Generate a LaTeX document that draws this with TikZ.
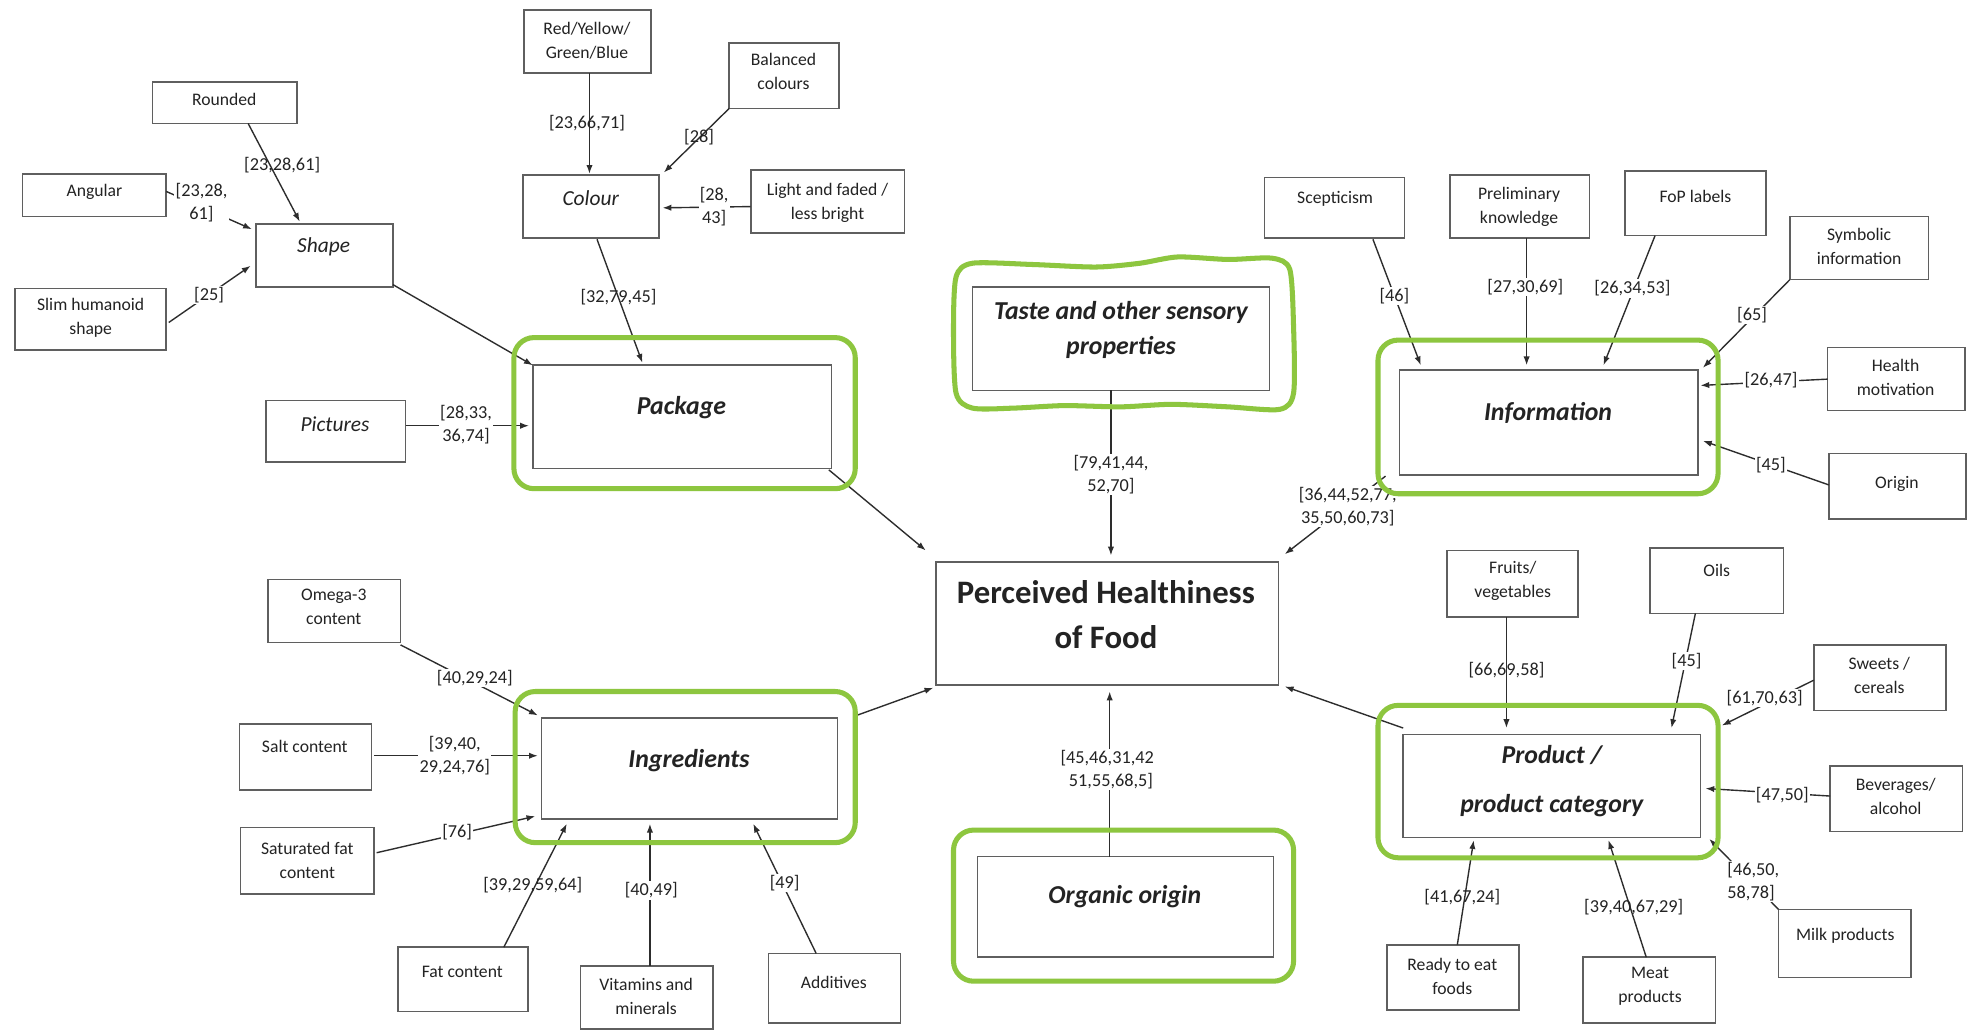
\documentclass[tikz,border=0pt]{standalone}
\usepackage{fontspec}
\setmainfont{Carlito}
\usetikzlibrary{arrows.meta,calc}
\definecolor{gframe}{RGB}{141,198,63}
\definecolor{boxc}{RGB}{95,95,95}
\definecolor{linec}{RGB}{45,45,45}
\definecolor{txtc}{RGB}{35,35,35}
\newcommand\mkbox[5]{\node[box, minimum width={#4-#2}, minimum height={#5-#3}] (#1) at ({(#2+#4)/2},{(#3+#5)/2}) {};}
\newcommand\mkframe[5]{\node[gbox, minimum width={#4-#2}, minimum height={#5-#3}] (#1) at ({(#2+#4)/2},{(#3+#5)/2}) {};}
\begin{document}
\begin{tikzpicture}[x=1pt,y=-1pt,
  box/.style={draw=boxc, line width=1.3pt, inner sep=0pt, outer sep=0pt},
  gbox/.style={draw=gframe, line width=4pt, rounded corners=16pt, inner sep=0pt, outer sep=0pt},
  txt/.style={font=\fontsize{14}{19}\selectfont, text=txtc, align=center, inner sep=0pt},
  itxt/.style={font=\fontsize{17}{21}\selectfont\itshape, text=txtc, align=center, inner sep=0pt},
  btxt/.style={font=\fontsize{20.5}{28}\selectfont\bfseries\itshape, text=txtc, align=center, inner sep=0pt},
  mtxt/.style={font=\fontsize{26}{36}\selectfont\bfseries, text=txtc, align=center, inner sep=0pt},
  lab/.style={font=\fontsize{14.5}{18}\selectfont, text=txtc, align=center, inner sep=1pt},
  labf/.style={lab, fill=white},
  arr/.style={draw=linec, line width=1.1pt, -{Latex[length=7pt,width=5pt]}}]
\useasboundingbox (0,0) rectangle (1568,819);
\fill[white] (0,0) rectangle (1568,819);

% ---- boxes ----
\mkbox{rounded}{121}{65}{236}{98}
\mkbox{angular}{18}{138}{132}{172}
\mkbox{slim}{12}{229}{132}{278}
\mkbox{shape}{203}{178}{312}{228}
\mkbox{rygb}{416}{8}{517}{58}
\mkbox{balanced}{579}{34}{666}{86}
\mkbox{colour}{415}{139}{523}{189}
\mkbox{light}{596}{135}{718}{185}
\mkbox{pkg}{423}{290}{660}{372}
\mkbox{pictures}{211}{318}{322}{367}
\mkbox{taste}{772}{228}{1008}{310}
\mkbox{phf}{743}{446}{1015}{544}
\mkbox{info}{1111}{294}{1348}{377}
\mkbox{scep}{1004}{141}{1115}{189}
\mkbox{prelim}{1151}{139}{1262}{189}
\mkbox{fop}{1290}{136}{1402}{187}
\mkbox{symb}{1421}{172}{1531}{222}
\mkbox{health}{1451}{276}{1560}{326}
\mkbox{origin}{1452}{360}{1561}{412}
\mkbox{ingr}{430}{570}{665}{650}
\mkbox{omega}{213}{460}{318}{510}
\mkbox{salt}{190}{575}{295}{627}
\mkbox{satfat}{191}{657}{297}{710}
\mkbox{fat}{316}{752}{419}{803}
\mkbox{vit}{461}{767}{566}{817}
\mkbox{addit}{610}{757}{715}{812}
\mkbox{organic}{776}{680}{1011}{760}
\mkbox{prod}{1114}{583}{1350}{665}
\mkbox{fruits}{1149}{437}{1253}{490}
\mkbox{oils}{1310}{435}{1416}{487}
\mkbox{sweets}{1440}{512}{1545}{564}
\mkbox{bev}{1453}{608}{1558}{660}
\mkbox{milk}{1412}{722}{1517}{776}
\mkbox{ready}{1101}{750}{1206}{802}
\mkbox{meat}{1257}{760}{1362}{812}

% ---- texts ----
\node[txt] (t-rounded) at (178,79) {Rounded};
\node[txt] (t-angular) at (75,152) {Angular};
\node[txt] (t-slim) at (72,252) {Slim humanoid\\shape};
\node[itxt] (t-shape) at (257,196) {Shape};
\node[txt] (t-rygb) at (466,32) {Red/Yellow/\\Green/Blue};
\node[txt] (t-balanced) at (622,57) {Balanced\\colours};
\node[itxt] (t-colour) at (469,157) {Colour};
\node[txt] (t-light) at (657,161) {Light and faded /\\less bright};
\node[btxt] (t-pkg) at (541,324) {Package};
\node[itxt] (t-pictures) at (266,337) {Pictures};
\node[btxt] (t-taste) at (890,262) {Taste and other sensory\\properties};
\node[mtxt] (t-phf) at (878,488) {Perceived Healthiness\\of Food};
\node[btxt] (t-info) at (1229,328) {Information};
\node[txt] (t-scep) at (1060,158) {Scepticism};
\node[txt] (t-prelim) at (1206,164) {Preliminary\\knowledge};
\node[txt] (t-fop) at (1346,156) {FoP labels};
\node[txt] (t-symb) at (1476,196) {Symbolic\\information};
\node[txt] (t-health) at (1505,300) {Health\\motivation};
\node[txt] (t-origin) at (1506,384) {Origin};
\node[btxt] (t-ingr) at (547,604) {Ingredients};
\node[txt] (t-omega) at (265,482) {Omega-3\\content};
\node[txt] (t-salt) at (242,593) {Salt content};
\node[txt] (t-satfat) at (244,683) {Saturated fat\\content};
\node[txt] (t-fat) at (367,772) {Fat content};
\node[txt] (t-vit) at (513,791) {Vitamins and\\minerals};
\node[txt] (t-addit) at (662,780) {Additives};
\node[btxt] (t-organic) at (893,712) {Organic origin};
\node[btxt] (t-prod) at (1232,620) {Product /\\[11pt]product category};
\node[txt] (t-fruits) at (1201,461) {Fruits/\\vegetables};
\node[txt] (t-oils) at (1363,453) {Oils};
\node[txt] (t-sweets) at (1492,536) {Sweets /\\cereals};
\node[txt] (t-bev) at (1505,632) {Beverages/\\alcohol};
\node[txt] (t-milk) at (1465,743) {Milk products};
\node[txt] (t-ready) at (1153,775) {Ready to eat\\foods};
\node[txt] (t-meat) at (1310,783) {Meat\\products};

% ---- connectors ----
\draw[arr] ($(rounded.north west)+(76,33)$) -- ($(shape.north west)+(35,-2)$);
\draw[arr] ($(angular.north west)+(114,14)$) -- ($(shape.north west)+(-3,4)$);
\draw[arr] ($(slim.north west)+(122,27)$) -- ($(shape.north west)+(-4,33)$);
\draw[arr] ($(shape.north west)+(109,48)$) -- (pkg.north west);
\draw[arr] ($(rygb.north west)+(52,50)$) -- ($(colour.north west)+(53,-1)$);
\draw[arr] (balanced.south west) -- ($(colour.north west)+(112,-2)$);
\draw[arr] ($(light.north west)+(0,29)$) -- ($(colour.north west)+(111,26)$);
\draw[arr] ($(colour.north west)+(59,51)$) -- ($(pkg.north west)+(87,-2)$);
\draw[arr] ($(pictures.north west)+(111,20)$) -- ($(pkg.north west)+(-3,48)$);
\draw[arr] ($(pkg.north west)+(235,83)$) -- ($(phf.north west)+(-8,-9)$);
\draw[arr] ($(taste.north west)+(110,82)$) -- ($(phf.north west)+(139,-5)$);
\draw[arr] ($(scep.north west)+(86,49)$) -- ($(info.north west)+(17,-4)$);
\draw[arr] ($(prelim.north west)+(61,50)$) -- ($(info.north west)+(101,-4)$);
\draw[arr] ($(fop.north west)+(24,51)$) -- ($(info.north west)+(162,-4)$);
\draw[arr] (symb.south west) -- ($(info.north west)+(241,-2)$);
\draw[arr] ($(health.north west)+(0,25)$) -- ($(info.north west)+(239,12)$);
\draw[arr] ($(origin.north west)+(0,25)$) -- ($(info.north west)+(241,56)$);
\draw[arr] ($(info.north west)+(-11,84)$) -- ($(phf.north west)+(277,-6)$);
\draw[arr] ($(omega.north west)+(105,52)$) -- ($(ingr.north west)+(-3,-2)$);
\draw[arr] ($(salt.north west)+(107,25)$) -- ($(ingr.north west)+(-3,30)$);
\draw[arr] ($(satfat.north west)+(108,20)$) -- ($(ingr.north west)+(-5,78)$);
\draw[arr] ($(fat.north west)+(84,0)$) -- ($(ingr.north west)+(20,84)$);
\draw[arr] ($(vit.north west)+(55,0)$) -- ($(ingr.north west)+(86,84)$);
\draw[arr] ($(addit.north west)+(38,0)$) -- ($(ingr.north west)+(168,84)$);
\draw[arr] ($(ingr.north west)+(250,-2)$) -- ($(phf.north west)+(-2,100)$);
\draw[arr] ($(organic.north west)+(105,0)$) -- ($(phf.north west)+(138,103)$);
\draw[arr] ($(fruits.north west)+(47,53)$) -- ($(prod.north west)+(82,-5)$);
\draw[arr] ($(oils.north west)+(36,52)$) -- ($(prod.north west)+(213,-5)$);
\draw[arr] ($(sweets.north west)+(0,28)$) -- ($(prod.north west)+(253,-7)$);
\draw[arr] ($(bev.north west)+(0,24)$) -- ($(prod.north west)+(240,43)$);
\draw[arr] (milk.north west) -- ($(prod.north west)+(243,83)$);
\draw[arr] ($(ready.north west)+(56,0)$) -- ($(prod.north west)+(56,84)$);
\draw[arr] ($(meat.north west)+(50,0)$) -- ($(prod.north west)+(163,84)$);
\draw[arr] ($(prod.north west)+(0,-5)$) -- ($(phf.north west)+(277,99)$);

% ---- labels ----
\node[lab] (l-rounded) at (224,131) {[23,28,61]};
\node[labf] (l-angular) at (160,161) {[23,28,\\61]};
\node[labf] (l-slim) at (166,234) {[25]};
\node[lab] (l-rygb) at (466,98) {[23,66,71]};
\node[lab] (l-balanced) at (555,109) {[28]};
\node[labf] (l-light) at (567,164) {[28,\\43]};
\node[lab] (l-colour) at (491,236) {[32,79,45]};
\node[labf] (l-pictures) at (370,337) {[28,33,\\36,74]};
\node[labf] (l-taste) at (882,377) {[79,41,44,\\52,70]};
\node[labf] (l-scep) at (1107,235) {[46]};
\node[labf] (l-prelim) at (1211,228) {[27,30,69]};
\node[labf] (l-fop) at (1296,229) {[26,34,53]};
\node[labf] (l-symb) at (1391,250) {[65]};
\node[labf] (l-health) at (1406,302) {[26,47]};
\node[labf] (l-origin) at (1406,369) {[45]};
\node[labf] (l-info) at (1070,402) {[36,44,52,77,\\35,50,60,73]};
\node[labf] (l-omega) at (377,538) {[40,29,24]};
\node[labf] (l-salt) at (361,600) {[39,40,\\29,24,76]};
\node[labf] (l-satfat) at (363,661) {[76]};
\node[lab] (l-fat) at (423,703) {[39,29,59,64]};
\node[labf] (l-vit) at (517,707) {[40,49]};
\node[labf] (l-addit) at (623,701) {[49]};
\node[labf] (l-organic) at (879,611) {[45,46,31,42\\\hspace*{6pt}51,55,68,5]};
\node[lab] (l-fruits) at (1196,532) {[66,69,58]};
\node[labf] (l-oils) at (1339,525) {[45]};
\node[labf] (l-sweets) at (1401,554) {[61,70,63]};
\node[labf] (l-bev) at (1415,631) {[47,50]};
\node[labf, align=left] (l-milk) at (1392,700) {[46,50,\\58,78]};
\node[lab] (l-ready) at (1161,712) {[41,67,24]};
\node[lab] (l-meat) at (1297,720) {[39,40,67,29]};

% ---- green frames ----
\mkframe{g-pkg}{408}{268}{679}{388}
\mkframe{g-info}{1094}{270}{1364}{392}
\mkframe{g-ingr}{409}{549}{679}{669}
\mkframe{g-organic}{757}{659}{1027}{779}
\mkframe{g-prod}{1094}{560}{1364}{681}
\draw[draw=gframe, line width=4pt] plot[smooth cycle, tension=0.45] coordinates {
 (772,209) (820,210) (870,212) (905,209) (935,204) (975,206) (1010,205)
 (1024,214) (1027,260) (1027,312) (1016,325) (975,323) (930,321) (890,323)
 (845,322) (805,324) (772,324) (759,312) (757,262) (759,220)};
\end{tikzpicture}
\end{document}
